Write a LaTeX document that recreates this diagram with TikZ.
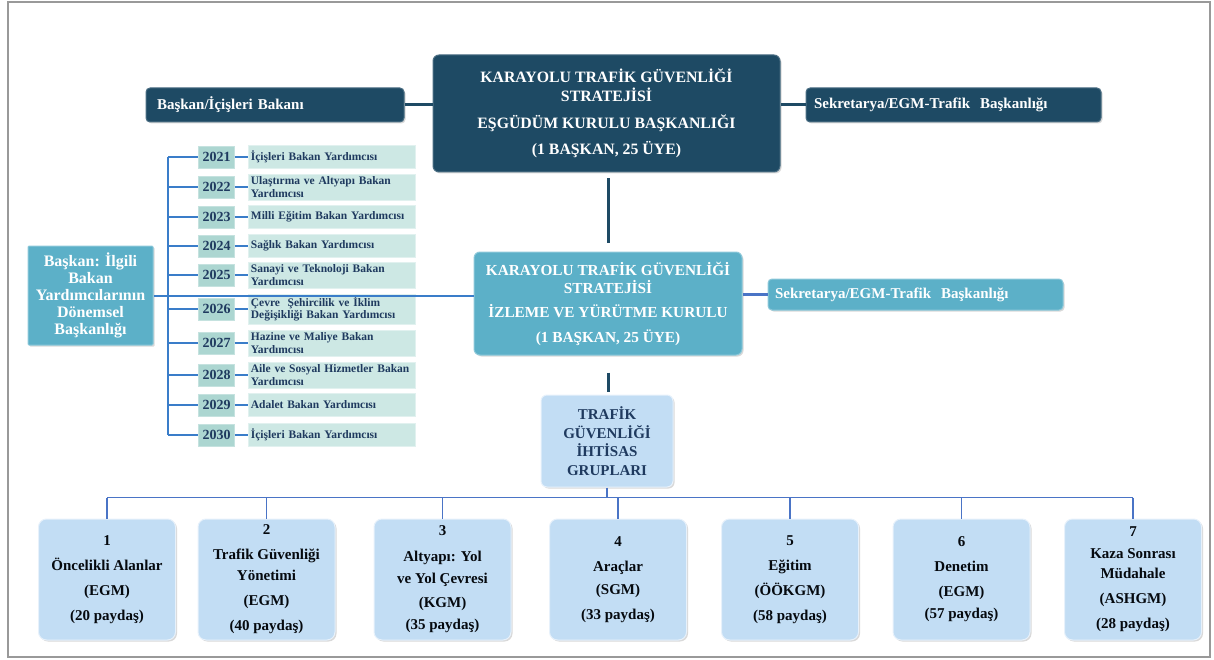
\documentclass[tikz,border=0pt]{standalone}
\usepackage{fontspec}
\setmainfont{Liberation Serif}
\usetikzlibrary{positioning,shadows}

\definecolor{kurulnavy}{HTML}{1E4A64}
\definecolor{kurulteal}{HTML}{5CB0C8}
\definecolor{itemmint}{HTML}{CDE8E4}
\definecolor{yearmint}{HTML}{ACD6D1}
\definecolor{grupblue}{HTML}{C2DDF4}
\definecolor{textnavy}{HTML}{1F3A5F}
\definecolor{treeblue}{HTML}{3A7DC9}
\definecolor{busblue}{HTML}{4A74C6}

\begin{document}
\begin{tikzpicture}[
        x=1pt, y=-1pt,
        every node/.style={align=center, inner sep=3pt},
        box/.style={rounded corners=6pt, font=\bfseries,
            drop shadow={shadow xshift=1.5pt, shadow yshift=-1.5pt, opacity=.3}},
        navybox/.style={box, fill=kurulnavy, draw=kurulnavy!80!white, line width=1pt, text=white},
        tealbox/.style={box, fill=kurulteal, draw=kurulteal!70!white, line width=1pt, text=white},
        sidebox/.style={minimum height=34pt, align=left, rounded corners=4pt,
            font=\fontsize{15}{17}\selectfont\bfseries},
        yearbox/.style={fill=yearmint, draw=yearmint!70!white, minimum width=36pt, minimum height=22pt,
            inner sep=1pt, text=textnavy, font=\fontsize{14}{15}\selectfont\bfseries},
        itembox/.style={fill=itemmint, draw=itemmint!60!white, minimum height=23pt, text width=161pt,
            inner xsep=3pt, inner ysep=2.5pt, align=left, text=textnavy,
            font=\fontsize{11.5}{12.5}\selectfont\bfseries},
        grupbox/.style={box, fill=grupblue, draw=white!60!grupblue, line width=1pt, text=textnavy,
            rounded corners=8pt, minimum width=137pt, minimum height=121pt,
            font=\fontsize{15}{25}\selectfont\bfseries},
        navyline/.style={draw=kurulnavy, line width=3pt},
        blueline/.style={draw=busblue, line width=2.5pt},
        treeline/.style={draw=treeblue, line width=1.8pt},
        busline/.style={draw=busblue, line width=1.3pt}
    ]

    \useasboundingbox (0,0) rectangle (1214,660);
    \draw[gray!80, line width=1.5pt] (8,2) rectangle (1210,657);

    % Top level
    \node[navybox, minimum width=347pt, minimum height=117pt,
          font=\fontsize{15.8}{19}\selectfont\bfseries] (esgudum) at (606.5,113.5)
        {KARAYOLU TRAFİK GÜVENLİĞİ\\STRATEJİSİ\\[8pt]EŞGÜDÜM KURULU BAŞKANLIĞI\\[7pt](1 BAŞKAN, 25 ÜYE)};
    \node[navybox, sidebox, minimum width=258pt, text width=236pt, left=28pt of esgudum, yshift=8.5pt]
        (baskan) {Başkan/İçişleri Bakanı};
    \node[navybox, sidebox, minimum width=295pt, text width=279pt, right=25pt of esgudum, yshift=8.5pt]
        (sekreter) {Sekretarya/EGM-Trafik~ Başkanlığı};

    % Middle level
    \node[tealbox, minimum width=268pt, minimum height=103pt,
          font=\fontsize{15.3}{18}\selectfont\bfseries] (izleme) at (608,303.5)
        {KARAYOLU TRAFİK GÜVENLİĞİ\\STRATEJİSİ\\[6pt]İZLEME VE YÜRÜTME KURULU\\[7pt](1 BAŞKAN, 25 ÜYE)};
    \node[tealbox, sidebox, minimum height=31pt, minimum width=295pt, text width=281pt,
          right=25pt of izleme, yshift=9pt] (sekreter2) {Sekretarya/EGM-Trafik~ Başkanlığı};
    \node[tealbox, rounded corners=1pt, minimum width=125pt, minimum height=99pt,
          font=\fontsize{16}{17}\selectfont\bfseries] (donem) at (90.5,295.5)
        {Başkan: İlgili\\Bakan\\Yardımcılarının\\Dönemsel\\Başkanlığı};

    % Yearly chairs
    \foreach \yr/\yy/\txt in {2021/157/{İçişleri Bakan Yardımcısı},
        2022/187/{Ulaştırma ve Altyapı Bakan\\Yardımcısı},
        2023/217/{Milli Eğitim Bakan Yardımcısı},
        2024/246/{Sağlık Bakan Yardımcısı},
        2025/275/{Sanayi ve Teknoloji Bakan\\Yardımcısı},
        2026/309/{Çevre~ Şehircilik ve İklim\\Değişikliği Bakan Yardımcısı},
        2027/343/{Hazine ve Maliye Bakan\\Yardımcısı},
        2028/375/{Aile ve Sosyal Hizmetler Bakan\\Yardımcısı},
        2029/405/{Adalet Bakan Yardımcısı},
        2030/435/{İçişleri Bakan Yardımcısı}}
    {
        \coordinate (t\yr) at (168,\yy);
        \node[yearbox] (yr\yr) at (216.5,\yy) {\yr};
        \node[itembox, right=13pt of yr\yr] (it\yr) {\txt};
        \draw[treeline] (t\yr) -- (yr\yr);
        \draw[treeline] (yr\yr) -- (it\yr);
    }
    \draw[treeline] (t2021) -- (t2030);

    % Expert groups
    \node[box, fill=grupblue, draw=white!60!grupblue, line width=1pt, text=textnavy,
          minimum width=132pt, minimum height=92pt,
          font=\fontsize{15}{18.5}\selectfont\bfseries] (ihtisas) at (607,441)
        {TRAFİK\\GÜVENLİĞİ\\İHTİSAS\\GRUPLARI};

    \foreach \i/\xx/\txt in {1/107/{1\\Öncelikli Alanlar\\(EGM)\\(20 paydaş)},
        2/266.5/{2\\Trafik Güvenliği\\[-4pt]Yönetimi\\(EGM)\\(40 paydaş)},
        3/442.5/{3\\[1pt]Altyapı: Yol\\[-3pt]ve Yol Çevresi\\[-1pt](KGM)\\[-3pt](35 paydaş)},
        4/618/{4\\Araçlar\\[-2pt](SGM)\\(33 paydaş)},
        5/790/{5\\Eğitim\\(ÖÖKGM)\\(58 paydaş)},
        6/961.5/{6\\Denetim\\(EGM)\\[-3pt](57 paydaş)},
        7/1133/{7\\[-3pt]Kaza Sonrası\\[-5pt]Müdahale\\(ASHGM)\\(28 paydaş)}}
    {
        \node[grupbox, text=black!85!textnavy] (g\i) at (\xx,579.5) {\txt};
    }

    % Edges
    \draw[navyline] (baskan) -- (baskan -| esgudum.west);
    \draw[navyline] (sekreter) -- (sekreter -| esgudum.east);
    \draw[navyline, shorten <=6pt, shorten >=9pt] (esgudum.south -| izleme.north) -- (izleme.north);
    \draw[navyline, shorten <=17pt, shorten >=3pt] (izleme.south) -- (izleme.south |- ihtisas.north);
    \draw[blueline] (sekreter2) -- (sekreter2 -| izleme.east);
    \draw[treeline, line width=2pt] (donem) -- (donem -| izleme.west);

    \coordinate[below=10pt of ihtisas.south] (bus);
    \draw[busline] (ihtisas.south) -- (bus);
    \draw[busline] (bus -| g1.north) -- (bus -| g7.north);
    \foreach \i in {1,...,7}
        \draw[busline] (bus -| g\i.north) -- (g\i.north);

\end{tikzpicture}
\end{document}
